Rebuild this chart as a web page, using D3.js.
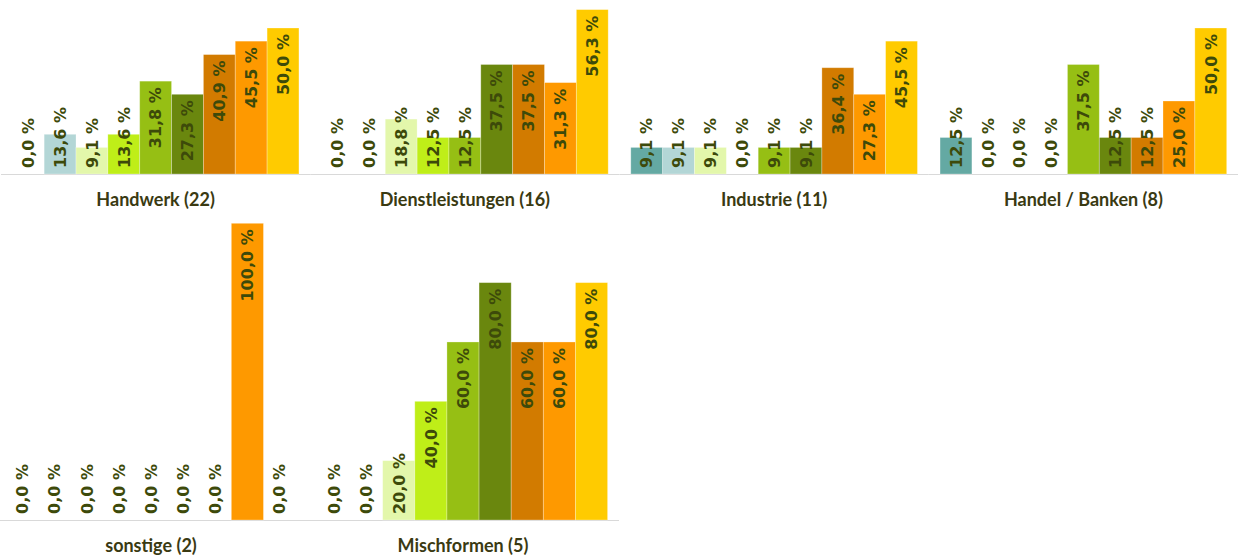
<!DOCTYPE html>
<html>
<head>
<meta charset="utf-8">
<script src="https://cdn.jsdelivr.net/npm/d3@7/dist/d3.min.js"></script>
<style>
  html, body { margin: 0; padding: 0; background: #ffffff; }
  svg { display: block; }
</style>
</head>
<body>
<script>
// Sector groups (number of respondents in brackets)
const categories = [
  "Handwerk (22)",
  "Dienstleistungen (16)",
  "Industrie (11)",
  "Handel / Banken (8)",
  "sonstige (2)",
  "Mischformen (5)"
];

// Nine answer series, shown as bars in each group
const seriesKeys = ["s1", "s2", "s3", "s4", "s5", "s6", "s7", "s8", "s9"];
const seriesColors = ["#64a9a3", "#b3d6d6", "#e3f7ab", "#bfee18", "#96bf14", "#6a870e", "#d27b00", "#fe9900", "#ffcb00"];

// Shares in percent per group, one value per series
const valuesHandwerk        = [0.0, 13.6, 9.1, 13.6, 31.8, 27.3, 40.9, 45.5, 50.0];
const valuesDienstleistungen = [0.0, 0.0, 18.8, 12.5, 12.5, 37.5, 37.5, 31.3, 56.3];
const valuesIndustrie       = [9.1, 9.1, 9.1, 0.0, 9.1, 9.1, 36.4, 27.3, 45.5];
const valuesHandel          = [12.5, 0.0, 0.0, 0.0, 37.5, 12.5, 12.5, 25.0, 50.0];
const valuesSonstige        = [0.0, 0.0, 0.0, 0.0, 0.0, 0.0, 0.0, 100.0, 0.0];
const valuesMischformen     = [0.0, 0.0, 20.0, 40.0, 60.0, 80.0, 60.0, 60.0, 80.0];

const groupValues = [valuesHandwerk, valuesDienstleistungen, valuesIndustrie, valuesHandel, valuesSonstige, valuesMischformen];

const W = 1240, H = 559;
const svg = d3.select("body").append("svg").attr("width", W).attr("height", H);

const locale = d3.formatLocale({ decimal: ",", thousands: ".", grouping: [3], currency: ["", " €"] });
const fmt = v => locale.format(".1f")(v) + " %";

// Two rows of small multiples
const rows = [
  { groups: [0, 1, 2, 3], xRange: [1, 1238], yBase: 174, yDomain: [0, 60], yTop: -1.2 },
  { groups: [4, 5],       xRange: [-5, 619], yBase: 520, yDomain: [0, 100], yTop: 223.3 }
];

const labelFont = "'DejaVu Sans', sans-serif";
const titleFont = "Lato, 'Open Sans', sans-serif";

rows.forEach(row => {
  const panelX = d3.scaleBand().domain(row.groups).range(row.xRange).padding(0);
  const y = d3.scaleLinear().domain(row.yDomain).range([row.yBase, row.yTop]);

  row.groups.forEach(gi => {
    const g = svg.append("g").attr("transform", `translate(${panelX(gi)},0)`);
    const pw = panelX.bandwidth();
    const x = d3.scaleBand().domain(seriesKeys).range([0, pw]).paddingInner(0).paddingOuter(0.355);

    // category axis line
    g.append("line")
      .attr("x1", 0).attr("x2", pw)
      .attr("y1", row.yBase + 0.5).attr("y2", row.yBase + 0.5)
      .attr("stroke", "#d9d9d9").attr("stroke-width", 1.2);

    const data = seriesKeys.map((k, i) => ({ key: k, value: groupValues[gi][i], color: seriesColors[i] }));

    g.selectAll("rect.bar").data(data.filter(d => d.value > 0)).join("rect")
      .attr("class", "bar")
      .attr("x", d => x(d.key))
      .attr("width", x.bandwidth())
      .attr("y", d => y(d.value))
      .attr("height", d => row.yBase - y(d.value))
      .attr("fill", d => d.color)
      .attr("stroke", "rgba(255,255,255,0.35)")
      .attr("stroke-width", 0.8);

    // value labels, rotated, placed at the inner end of each bar
    const labels = g.selectAll("text.val").data(data).join("text")
      .attr("class", "val")
      .attr("font-family", labelFont)
      .attr("font-weight", "bold")
      .attr("font-size", 16)
      .attr("fill", "#3d4a0a")
      .attr("text-anchor", "start")
      .attr("dy", "0.36em")
      .text(d => fmt(d.value));

    labels.each(function (d) {
      const len = this.getComputedTextLength();
      const cx = x(d.key) + x.bandwidth() / 2;
      const start = Math.min(row.yBase - 6, y(d.value) + 6 + len);
      d3.select(this).attr("transform", `translate(${cx},${start}) rotate(-90)`);
    });

    // group title
    g.append("text")
      .attr("x", pw / 2)
      .attr("y", row.yBase + 32)
      .attr("text-anchor", "middle")
      .attr("font-family", titleFont)
      .attr("font-weight", "bold")
      .attr("font-size", 18)
      .attr("fill", "#3a3a12")
      .text(categories[gi]);
  });
});
</script>
</body>
</html>
